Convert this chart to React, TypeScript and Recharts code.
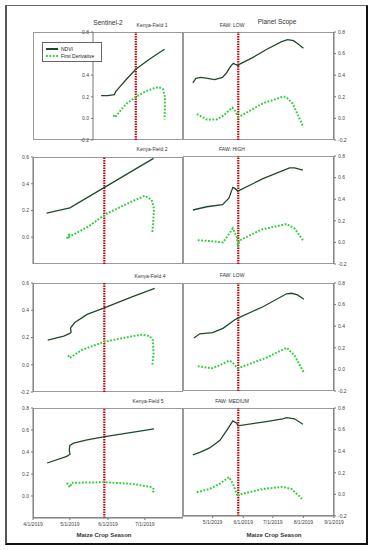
import React from 'react';
import { LineChart, Line, XAxis, YAxis, ReferenceLine, Legend } from 'recharts';

// days since 4/1/2019
const dateLabels: Record<number, string> = {
  0: '4/1/2019', 30: '5/1/2019', 61: '6/1/2019', 91: '7/1/2019', 122: '8/1/2019', 153: '9/1/2019',
};
const leftTicks = [0, 30, 61, 91];
const rightTicks = [30, 61, 91, 122, 153];
const redDayS2 = 58;
const redDayPS = 56;

type Pt = { d: number; v: number };

// Sentinel-2
const field1Ndvi: Pt[] = [
  { d: 11, v: 0.21 }, { d: 20, v: 0.21 }, { d: 29, v: 0.22 }, { d: 30, v: 0.235 }, { d: 31, v: 0.25 },
  { d: 36, v: 0.29 }, { d: 45, v: 0.36 }, { d: 58, v: 0.455 }, { d: 75, v: 0.54 }, { d: 90, v: 0.61 }, { d: 97, v: 0.64 },
];
const field1Deriv: Pt[] = [
  { d: 27.5, v: 0.03 }, { d: 30, v: 0.01 }, { d: 38, v: 0.08 }, { d: 46, v: 0.14 }, { d: 58.5, v: 0.2 },
  { d: 71, v: 0.25 }, { d: 83, v: 0.28 }, { d: 89, v: 0.29 }, { d: 95, v: 0.27 }, { d: 97.5, v: 0.2 },
  { d: 97.5, v: 0.1 }, { d: 97, v: -0.01 },
];
const field2Ndvi: Pt[] = [
  { d: 11, v: 0.18 }, { d: 30, v: 0.22 }, { d: 58.5, v: 0.375 }, { d: 98, v: 0.59 },
];
const field2Deriv: Pt[] = [
  { d: 27.5, v: -0.01 }, { d: 30, v: 0.03 }, { d: 29, v: 0.0 }, { d: 33, v: 0.02 }, { d: 45, v: 0.08 },
  { d: 58.5, v: 0.17 }, { d: 81, v: 0.27 }, { d: 91, v: 0.31 }, { d: 96.5, v: 0.28 }, { d: 98.5, v: 0.21 },
  { d: 97, v: 0.03 },
];
const field4Ndvi: Pt[] = [
  { d: 12, v: 0.18 }, { d: 25, v: 0.21 }, { d: 30, v: 0.23 }, { d: 31, v: 0.24 }, { d: 30.5, v: 0.27 },
  { d: 34, v: 0.31 }, { d: 44, v: 0.37 }, { d: 58.5, v: 0.42 }, { d: 81, v: 0.5 }, { d: 99, v: 0.56 },
];
const field4Deriv: Pt[] = [
  { d: 28.5, v: 0.07 }, { d: 30, v: 0.05 }, { d: 40, v: 0.11 }, { d: 58.5, v: 0.17 }, { d: 81, v: 0.21 },
  { d: 89, v: 0.22 }, { d: 95, v: 0.21 }, { d: 97.5, v: 0.18 }, { d: 98, v: 0.08 }, { d: 97, v: -0.01 },
];
const field5Ndvi: Pt[] = [
  { d: 11.5, v: 0.3 }, { d: 27.5, v: 0.36 }, { d: 30, v: 0.38 }, { d: 29.5, v: 0.42 }, { d: 30, v: 0.46 },
  { d: 33, v: 0.48 }, { d: 44, v: 0.51 }, { d: 58.5, v: 0.54 }, { d: 98.5, v: 0.61 },
];
const field5Deriv: Pt[] = [
  { d: 27.5, v: 0.12 }, { d: 30, v: 0.08 }, { d: 31.5, v: 0.12 }, { d: 58.5, v: 0.125 }, { d: 81, v: 0.11 },
  { d: 96.5, v: 0.08 }, { d: 98.5, v: 0.06 }, { d: 97, v: 0.02 },
];

// Planet Scope
const faw1Ndvi: Pt[] = [
  { d: 10, v: 0.33 }, { d: 13, v: 0.37 }, { d: 18, v: 0.38 }, { d: 25, v: 0.37 }, { d: 32, v: 0.36 },
  { d: 40, v: 0.38 }, { d: 44, v: 0.42 }, { d: 48, v: 0.48 }, { d: 51, v: 0.51 }, { d: 53, v: 0.5 },
  { d: 56, v: 0.49 }, { d: 58, v: 0.505 }, { d: 70, v: 0.56 }, { d: 85, v: 0.64 }, { d: 100, v: 0.71 },
  { d: 106, v: 0.73 }, { d: 112, v: 0.72 }, { d: 118, v: 0.68 }, { d: 122, v: 0.65 },
];
const faw1Deriv: Pt[] = [
  { d: 14, v: 0.04 }, { d: 24, v: -0.01 }, { d: 34, v: -0.01 }, { d: 40, v: 0.02 }, { d: 50, v: 0.1 },
  { d: 53, v: 0.07 }, { d: 56, v: 0.015 }, { d: 58, v: 0.02 }, { d: 81, v: 0.14 }, { d: 101, v: 0.2 },
  { d: 104, v: 0.2 }, { d: 111, v: 0.14 }, { d: 122, v: -0.08 },
];
const faw2Ndvi: Pt[] = [
  { d: 10, v: 0.3 }, { d: 24, v: 0.33 }, { d: 40, v: 0.35 }, { d: 46.5, v: 0.41 }, { d: 50.5, v: 0.51 },
  { d: 52.5, v: 0.5 }, { d: 55.5, v: 0.475 }, { d: 81, v: 0.59 }, { d: 108, v: 0.69 }, { d: 113, v: 0.69 },
  { d: 121.5, v: 0.67 },
];
const faw2Deriv: Pt[] = [
  { d: 15, v: 0.02 }, { d: 30, v: 0.01 }, { d: 40.5, v: 0.0 }, { d: 47.5, v: 0.09 }, { d: 50.5, v: 0.13 },
  { d: 54.5, v: 0.05 }, { d: 55.5, v: -0.02 }, { d: 57.5, v: 0.02 }, { d: 80, v: 0.12 }, { d: 105, v: 0.17 },
  { d: 113, v: 0.13 }, { d: 121.5, v: 0.02 },
];
const faw3Ndvi: Pt[] = [
  { d: 11, v: 0.29 }, { d: 17, v: 0.33 }, { d: 30, v: 0.34 }, { d: 40.5, v: 0.38 }, { d: 52.5, v: 0.46 },
  { d: 55.5, v: 0.475 }, { d: 81, v: 0.58 }, { d: 105, v: 0.7 }, { d: 110, v: 0.705 }, { d: 116, v: 0.69 },
  { d: 122.5, v: 0.65 },
];
const faw3Deriv: Pt[] = [
  { d: 15, v: 0.03 }, { d: 29, v: 0.01 }, { d: 37.5, v: 0.04 }, { d: 46.5, v: 0.08 }, { d: 49.5, v: 0.07 },
  { d: 55.5, v: 0.01 }, { d: 85, v: 0.11 }, { d: 105, v: 0.2 }, { d: 113, v: 0.13 }, { d: 122.5, v: -0.03 },
];
const faw4Ndvi: Pt[] = [
  { d: 10, v: 0.365 }, { d: 17, v: 0.39 }, { d: 27, v: 0.43 }, { d: 37.5, v: 0.5 }, { d: 45.5, v: 0.61 },
  { d: 50.5, v: 0.68 }, { d: 54.5, v: 0.66 }, { d: 55.5, v: 0.635 }, { d: 81, v: 0.67 }, { d: 101, v: 0.7 },
  { d: 105, v: 0.71 }, { d: 113, v: 0.7 }, { d: 121.5, v: 0.65 },
];
const faw4Deriv: Pt[] = [
  { d: 14, v: 0.02 }, { d: 27, v: 0.05 }, { d: 37.5, v: 0.1 }, { d: 46.5, v: 0.16 }, { d: 50.5, v: 0.1 },
  { d: 55.5, v: -0.02 }, { d: 57.5, v: 0.0 }, { d: 81, v: 0.05 }, { d: 101, v: 0.07 }, { d: 110, v: 0.05 },
  { d: 120.5, v: -0.04 },
];

const fullTicks = [-0.2, 0, 0.2, 0.4, 0.6, 0.8];
const font = '"Liberation Sans", Arial, sans-serif';
const tickStyle = { fontSize: 5, fill: '#444', fontFamily: font };
const legendOrder = ['NDVI', 'First Derivative'];
const PAD = 5;

const LegendBox = ({ payload }: any) => {
  const items = [...(payload || [])].sort((a: any, b: any) => legendOrder.indexOf(a.value) - legendOrder.indexOf(b.value));
  return (
    <div style={{ border: '1px solid #666', background: '#fff', padding: '2px 3px', width: 52, fontFamily: font, fontSize: 5, color: '#222', whiteSpace: 'nowrap' }}>
      {items.map((e: any) => (
        <div key={e.value} style={{ display: 'flex', alignItems: 'center', height: 7 }}>
          <svg width={12} height={4} style={{ marginRight: 3, flexShrink: 0 }}>
            <line x1={0} y1={2} x2={12} y2={2} stroke={e.color} strokeWidth={2}
              strokeDasharray={e.payload && e.payload.strokeDasharray} />
          </svg>
          {e.value}
        </div>
      ))}
    </div>
  );
};

interface PanelProps {
  side: 'left' | 'right';
  top: number;
  plotH: number;
  yDomain: [number, number];
  yTicks: number[];
  ndvi: Pt[];
  deriv: Pt[];
  bottom?: boolean;
  legend?: boolean;
}

const Panel: React.FC<PanelProps> = ({ side, top, plotH, yDomain, yTicks, ndvi, deriv, bottom, legend }) => {
  const isLeft = side === 'left';
  const axisW = isLeft ? 33 : 38;
  const plotW = isLeft ? 150 : 151;
  const xH = bottom ? 14 : 0;
  return (
    <div style={{ position: 'absolute', left: isLeft ? 0 : 183, top: top - PAD }}>
      <div style={{ position: 'absolute', left: isLeft ? 33 : 0, top: PAD, width: plotW, height: plotH, border: '1px solid #9a9a9a', boxSizing: 'border-box' }} />
      <LineChart width={plotW + axisW} height={plotH + xH + PAD * 2} margin={{ top: PAD, right: 0, bottom: PAD, left: 0 }}>
        <XAxis dataKey="d" type="number" domain={isLeft ? [0, 122] : [0, 153]}
          ticks={isLeft ? leftTicks : rightTicks} tickFormatter={(t: number) => dateLabels[t]}
          hide={!bottom} height={xH} tick={tickStyle} tickSize={2} axisLine={{ stroke: '#777' }} tickLine={{ stroke: '#777' }} interval={0} />
        <YAxis orientation={side} type="number" domain={yDomain} ticks={yTicks} width={axisW}
          tickFormatter={(t: number) => t.toFixed(1)} tick={tickStyle} tickSize={2} tickMargin={2}
          axisLine={{ stroke: '#777' }} tickLine={{ stroke: '#777' }} interval={0} />
        <ReferenceLine x={isLeft ? redDayS2 : redDayPS} stroke="#cc0000" strokeWidth={2.2} strokeDasharray="1.5 1" />
        <Line data={ndvi} dataKey="v" name="NDVI" type="linear" stroke="#1f4a2a" strokeWidth={1.3}
          dot={false} isAnimationActive={false} />
        <Line data={deriv} dataKey="v" name="First Derivative" type="linear" stroke="#2fcf3a" strokeWidth={2}
          strokeDasharray="1.8 1.6" dot={false} isAnimationActive={false} />
        {legend && (
          <Legend layout="vertical" verticalAlign="top" align="left" content={<LegendBox />}
            wrapperStyle={{ left: 42, top: 10 + PAD, width: 60 }} />
        )}
      </LineChart>
    </div>
  );
};

const Label: React.FC<{ x: number; y: number; size: number; bold?: boolean; children: React.ReactNode }> = ({ x, y, size, bold, children }) => (
  <div style={{ position: 'absolute', left: x, top: y, transform: 'translate(-50%, -50%)', fontFamily: font, fontSize: size, fontWeight: bold ? 700 : 400, color: '#333', whiteSpace: 'nowrap' }}>
    {children}
  </div>
);

export default function App() {
  return (
    <div style={{ position: 'absolute', left: 0, top: 0, width: 372, height: 550, background: '#fff' }}>
      <div style={{ position: 'absolute', left: 5, top: 5, width: 359, height: 537, borderLeft: '2px solid #555', borderTop: '1.5px solid #666', borderRight: '2px solid #111', borderBottom: '2px solid #111' }} />
      <Label x={108} y={22} size={6.5}>Sentinel-2</Label>
      <Label x={277} y={21} size={6.5}>Planet Scope</Label>
      <Label x={152} y={25} size={5}>Kenya-Field 1</Label>
      <Label x={232} y={25} size={5}>FAW: LOW</Label>
      <Label x={152} y={149} size={5}>Kenya-Field 2</Label>
      <Label x={232} y={149} size={5}>FAW: HIGH</Label>
      <Label x={150} y={276} size={5}>Kenya-Field 4</Label>
      <Label x={232} y={275} size={5}>FAW: LOW</Label>
      <Label x={148} y={401} size={5}>Kenya-Field 5</Label>
      <Label x={232} y={401} size={5}>FAW: MEDIUM</Label>
      <Label x={104} y={535} size={6} bold>Maize Crop Season</Label>
      <Label x={274} y={535} size={6} bold>Maize Crop Season</Label>

      <Panel side="left" top={32} plotH={108} yDomain={[-0.2, 0.8]} yTicks={fullTicks} ndvi={field1Ndvi} deriv={field1Deriv} legend />
      <Panel side="right" top={32} plotH={108} yDomain={[-0.2, 0.8]} yTicks={fullTicks} ndvi={faw1Ndvi} deriv={faw1Deriv} />
      <Panel side="left" top={157} plotH={107} yDomain={[-0.2, 0.6]} yTicks={[0, 0.2, 0.4, 0.6]} ndvi={field2Ndvi} deriv={field2Deriv} />
      <Panel side="right" top={156} plotH={108} yDomain={[-0.2, 0.8]} yTicks={fullTicks} ndvi={faw2Ndvi} deriv={faw2Deriv} />
      <Panel side="left" top={283} plotH={109} yDomain={[-0.2, 0.6]} yTicks={[-0.2, 0, 0.2, 0.4, 0.6]} ndvi={field4Ndvi} deriv={field4Deriv} />
      <Panel side="right" top={283} plotH={108} yDomain={[-0.2, 0.8]} yTicks={fullTicks} ndvi={faw3Ndvi} deriv={faw3Deriv} />
      <Panel side="left" top={408} plotH={110} yDomain={[-0.2, 0.8]} yTicks={[0, 0.2, 0.4, 0.6, 0.8]} ndvi={field5Ndvi} deriv={field5Deriv} bottom />
      <Panel side="right" top={408} plotH={108} yDomain={[-0.2, 0.8]} yTicks={fullTicks} ndvi={faw4Ndvi} deriv={faw4Deriv} bottom />
    </div>
  );
}
